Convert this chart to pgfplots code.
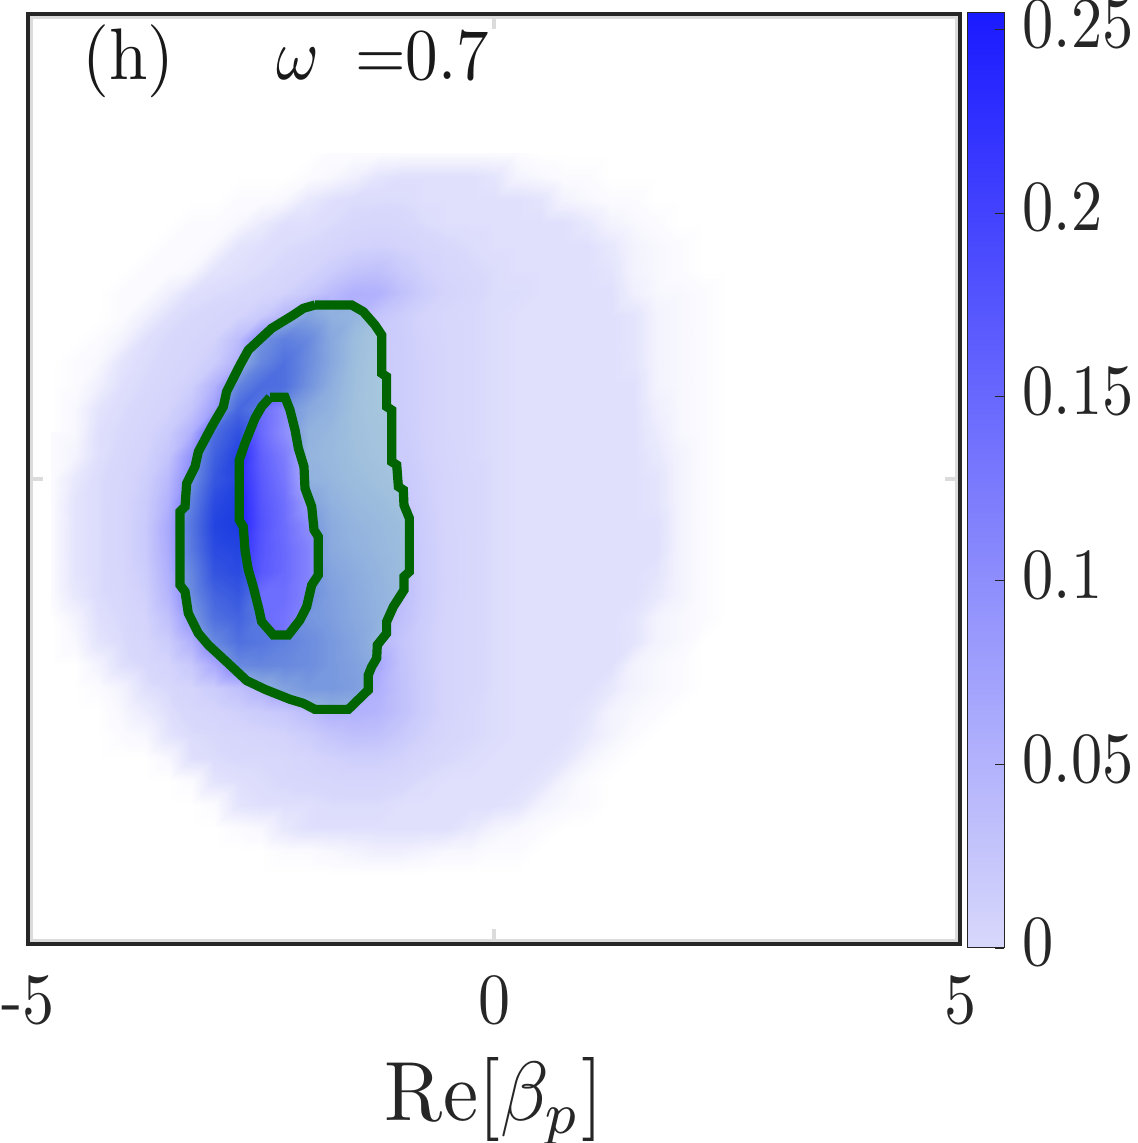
\documentclass[border=0pt]{standalone}
\usepackage{pgfplots}
\usepackage{pgfplotstable}
\pgfplotsset{compat=1.18}
\definecolor{framec}{rgb}{0.15,0.15,0.15}
\definecolor{ghost}{rgb}{0.86,0.86,0.86}
\definecolor{lineg}{RGB}{0,100,0}
\definecolor{tintc}{RGB}{20,180,105}
\pgfplotsset{colormap={heat}{rgb255(0)=(255,255,255) rgb255(10)=(216,216,252) rgb255(254)=(26,26,255)},
colormap={bar}{rgb255=(216,216,252) rgb255=(26,26,255)}}
% probability values in units of 0.001, rows from y=3.5 down to y=-4.25, columns x=-4.75 to 2.75, step 0.25
\pgfplotstableread[row sep=\\]{
v\\
0\\0\\0\\0\\0\\0\\0\\0\\0\\0\\0\\0\\1\\1\\1\\1\\1\\1\\1\\1\\1\\0\\0\\0\\0\\0\\0\\0\\0\\0\\0\\
0\\0\\0\\0\\0\\0\\0\\0\\0\\0\\0\\1\\2\\4\\7\\8\\8\\8\\8\\7\\3\\2\\1\\1\\0\\0\\0\\0\\0\\0\\0\\
0\\0\\0\\0\\0\\0\\0\\0\\1\\1\\2\\6\\8\\9\\9\\9\\8\\8\\8\\8\\8\\7\\3\\2\\1\\1\\0\\0\\0\\0\\0\\
0\\0\\0\\0\\0\\0\\1\\1\\2\\5\\8\\8\\9\\11\\12\\11\\9\\8\\8\\8\\8\\8\\8\\6\\3\\2\\1\\0\\0\\0\\0\\
0\\0\\0\\0\\0\\1\\1\\2\\7\\8\\9\\10\\13\\17\\19\\16\\12\\10\\9\\8\\8\\8\\8\\8\\6\\3\\2\\1\\0\\0\\0\\
0\\0\\0\\0\\1\\1\\2\\7\\8\\9\\11\\15\\24\\36\\40\\28\\18\\12\\10\\9\\8\\8\\8\\8\\7\\3\\2\\1\\0\\0\\0\\
0\\0\\0\\1\\1\\4\\8\\9\\10\\12\\18\\30\\48\\62\\60\\40\\24\\15\\11\\9\\9\\8\\8\\8\\8\\4\\2\\2\\1\\0\\0\\
0\\0\\0\\1\\4\\8\\10\\12\\16\\28\\55\\85\\62\\55\\35\\24\\15\\11\\10\\9\\8\\8\\8\\8\\8\\7\\3\\2\\1\\0\\0\\
0\\0\\1\\3\\8\\10\\12\\17\\45\\110\\140\\125\\75\\42\\28\\24\\17\\12\\10\\9\\8\\8\\8\\8\\8\\7\\3\\2\\1\\0\\0\\
0\\1\\2\\7\\9\\11\\15\\26\\62\\130\\165\\120\\75\\40\\26\\24\\18\\12\\10\\9\\8\\8\\8\\8\\8\\7\\3\\2\\1\\0\\0\\
0\\1\\4\\8\\10\\13\\22\\60\\133\\173\\165\\110\\65\\38\\26\\24\\18\\12\\10\\9\\8\\8\\8\\8\\8\\8\\3\\2\\1\\0\\0\\
0\\2\\7\\9\\12\\17\\35\\85\\180\\150\\112\\75\\58\\36\\27\\24\\18\\12\\10\\9\\8\\8\\8\\8\\8\\8\\4\\2\\1\\0\\0\\
0\\2\\8\\10\\14\\26\\60\\170\\215\\152\\107\\60\\50\\37\\30\\25\\18\\12\\10\\9\\8\\8\\8\\8\\8\\8\\5\\2\\1\\0\\0\\
1\\3\\8\\11\\18\\36\\100\\190\\240\\165\\127\\55\\48\\38\\32\\27\\19\\13\\10\\9\\8\\8\\8\\8\\8\\8\\6\\3\\1\\0\\0\\
1\\6\\9\\12\\22\\50\\115\\205\\235\\172\\135\\60\\52\\42\\36\\30\\21\\14\\11\\9\\8\\8\\8\\8\\8\\8\\7\\3\\1\\0\\0\\
1\\7\\9\\13\\26\\60\\140\\225\\245\\178\\145\\85\\60\\48\\42\\34\\22\\14\\11\\9\\8\\8\\8\\8\\8\\8\\7\\3\\1\\0\\0\\
1\\7\\9\\13\\28\\70\\155\\235\\250\\182\\148\\107\\70\\55\\48\\40\\24\\14\\11\\9\\8\\8\\8\\8\\8\\8\\8\\3\\1\\0\\0\\
1\\7\\9\\13\\28\\68\\150\\225\\235\\178\\152\\120\\72\\60\\50\\42\\25\\15\\11\\9\\8\\8\\8\\8\\8\\8\\8\\3\\1\\0\\0\\
1\\7\\9\\12\\24\\62\\130\\210\\225\\174\\152\\120\\82\\68\\55\\44\\25\\15\\11\\9\\8\\8\\8\\8\\8\\8\\7\\3\\1\\0\\0\\
1\\6\\9\\11\\20\\55\\120\\185\\205\\146\\146\\120\\90\\72\\58\\46\\26\\15\\11\\9\\8\\8\\8\\8\\8\\8\\6\\3\\1\\0\\0\\
0\\3\\8\\10\\16\\40\\95\\165\\185\\150\\140\\105\\92\\75\\60\\42\\24\\14\\11\\9\\8\\8\\8\\8\\8\\7\\3\\2\\1\\0\\0\\
0\\2\\7\\9\\13\\25\\60\\125\\165\\155\\138\\120\\100\\82\\55\\35\\22\\14\\11\\9\\8\\8\\8\\8\\8\\7\\3\\2\\0\\0\\0\\
0\\0\\3\\8\\10\\15\\30\\70\\125\\130\\125\\118\\100\\88\\72\\38\\22\\14\\11\\9\\8\\8\\8\\8\\8\\3\\2\\1\\0\\0\\0\\
0\\0\\1\\3\\8\\10\\15\\25\\40\\60\\85\\100\\100\\92\\62\\40\\24\\14\\11\\9\\8\\8\\8\\8\\6\\3\\2\\1\\0\\0\\0\\
0\\0\\0\\2\\5\\8\\11\\14\\20\\26\\32\\45\\60\\60\\55\\40\\24\\14\\10\\9\\8\\8\\8\\7\\3\\2\\1\\0\\0\\0\\0\\
0\\0\\0\\1\\2\\7\\9\\10\\12\\14\\17\\24\\35\\42\\40\\30\\19\\12\\10\\9\\8\\8\\8\\6\\3\\1\\0\\0\\0\\0\\0\\
0\\0\\0\\0\\0\\2\\8\\9\\10\\10\\11\\14\\18\\22\\22\\18\\13\\10\\9\\8\\8\\8\\7\\3\\1\\0\\0\\0\\0\\0\\0\\
0\\0\\0\\0\\0\\0\\1\\7\\8\\9\\10\\11\\12\\13\\13\\11\\9\\8\\8\\8\\8\\7\\3\\1\\0\\0\\0\\0\\0\\0\\0\\
0\\0\\0\\0\\0\\0\\0\\1\\7\\8\\8\\8\\9\\9\\9\\8\\8\\8\\8\\8\\7\\3\\2\\1\\0\\0\\0\\0\\0\\0\\0\\
0\\0\\0\\0\\0\\0\\0\\0\\1\\2\\6\\8\\8\\8\\8\\8\\8\\8\\6\\3\\2\\1\\0\\0\\0\\0\\0\\0\\0\\0\\0\\
0\\0\\0\\0\\0\\0\\0\\0\\0\\0\\1\\1\\2\\3\\4\\4\\3\\2\\2\\1\\1\\0\\0\\0\\0\\0\\0\\0\\0\\0\\0\\
0\\0\\0\\0\\0\\0\\0\\0\\0\\0\\0\\0\\0\\0\\0\\0\\0\\0\\0\\0\\0\\0\\0\\0\\0\\0\\0\\0\\0\\0\\0\\
}\heat
\pgfplotstableread{
x y
-1.921 1.871
-1.527 1.871
-1.402 1.799
-1.277 1.656
-1.205 1.548
-1.205 1.136
-1.152 1.100
-1.152 0.778
-1.098 0.742
-1.098 0.186
-1.044 0.151
-1.026 -0.082
-0.973 -0.118
-0.966 -0.280
-0.908 -0.423
-0.908 -0.996
-0.966 -1.050
-0.966 -1.194
-1.080 -1.373
-1.152 -1.534
-1.152 -1.659
-1.252 -1.785
-1.259 -1.928
-1.312 -2.018
-1.349 -2.108
-1.349 -2.269
-1.563 -2.477
-1.921 -2.477
-2.046 -2.412
-2.189 -2.369
-2.332 -2.312
-2.457 -2.262
-2.654 -2.168
-2.833 -2.000
-3.065 -1.785
-3.172 -1.659
-3.280 -1.444
-3.315 -1.211
-3.369 -1.140
-3.369 -0.351
-3.315 -0.297
-3.298 -0.047
-3.208 0.133
-3.172 0.294
-3.029 0.563
-2.904 0.778
-2.869 0.939
-2.725 1.226
-2.636 1.387
-2.386 1.620
-2.153 1.763
-2.046 1.835
-1.921 1.871
}\outerc
\pgfplotstableread{
x y
-2.403 0.878
-2.242 0.878
-2.189 0.742
-2.135 0.527
-2.099 0.330
-2.039 0.133
-2.028 -0.100
-1.956 -0.297
-1.931 -0.548
-1.885 -0.620
-1.885 -1.032
-1.956 -1.140
-2.010 -1.373
-2.082 -1.516
-2.207 -1.677
-2.368 -1.677
-2.493 -1.534
-2.529 -1.373
-2.583 -1.158
-2.636 -0.978
-2.672 -0.763
-2.690 -0.513
-2.733 -0.441
-2.733 0.204
-2.672 0.384
-2.564 0.653
-2.493 0.778
-2.403 0.878
}\innerc
\pgfplotstablevertcat{\ringc}{\outerc}
\pgfplotstablevertcat{\ringc}{\innerc}
\begin{document}
\begin{tikzpicture}
\useasboundingbox (-14pt,-99.5pt) rectangle (554.5pt,472pt);
\begin{axis}[
  at={(0pt,0pt)}, anchor=south west,
  scale only axis, width=466pt, height=465pt,
  xmin=-5, xmax=5, ymin=-5, ymax=5,
  clip=true, clip mode=individual,
  axis on top,
  xtick={-5,0,5}, ytick={-5,0,5},
  xticklabels={-5,0,5}, yticklabels={,,},
  tick align=inside,
  major tick length=7.5pt,
  tick style={color=ghost, line width=2pt},
  axis line style={color=framec, line width=2pt},
  xticklabel style={anchor=base, inner sep=0pt, xscale=3.2, yscale=3.6, text=framec, yshift=-11pt},
  xlabel={Re$[\beta_p]$},
  xlabel style={at={(axis description cs:0.5,0)}, anchor=base, inner sep=0pt, xscale=3.95, yscale=4.2, text=framec, yshift=-21pt},
  colormap name=heat,
  point meta min=0, point meta max=254,
]
\addplot[surf, shader=interp, mesh/cols=31, point meta=explicit]
  table[x index=0, y index=0, x expr={-4.75+0.25*mod(\coordindex,31)}, y expr={3.5-0.25*floor(\coordindex/31)}, meta=v] {\heat};
\addplot[draw=none, fill=tintc, fill opacity=0.2, even odd rule, forget plot] table[x=x,y=y] {\ringc};
\addplot[color=lineg, line width=4.6pt, line join=miter, no marks] table[x=x,y=y] {\outerc};
\addplot[color=lineg, line width=4.6pt, line join=miter, no marks] table[x=x,y=y] {\innerc};
\draw[ghost, line width=1.5pt] (axis cs:-4.962,-4.962) rectangle (axis cs:4.962,4.962);
\node[anchor=base west, inner sep=0pt, xscale=3.45, yscale=3.65, text=black!90] at (axis cs:-4.43,4.30) {(h)};
\node[anchor=base west, inner sep=0pt, xscale=3.25, yscale=3.65, text=black!90] at (axis cs:-2.35,4.30) {$\omega\;\;{=}$0.7};
\end{axis}
\begin{axis}[
  at={(469.5pt,-2pt)}, anchor=south west,
  scale only axis, width=18.5pt, height=467.5pt,
  xmin=0, xmax=1, ymin=0, ymax=0.2544,
  axis on top,
  xtick=\empty,
  ytick={0,0.05,0.1,0.15,0.2,0.25},
  yticklabels={0,0.05,0.1,0.15,0.2,0.25},
  ytick pos=right, yticklabel pos=right,
  tick align=inside, major tick length=4.5pt,
  tick style={color=framec, line width=0.4pt},
  axis line style={color=framec, line width=0.5pt},
  yticklabel style={anchor=base west, inner sep=0pt, xscale=3.12, yscale=3.6, text=framec, xshift=2.8pt, yshift=-2.5pt},
  colormap name=bar,
  point meta min=0, point meta max=0.2544,
]
\addplot[surf, shader=interp, mesh/cols=2, point meta=y] table {
x y
0 0
1 0
0 0.2544
1 0.2544
};
\end{axis}
\end{tikzpicture}
\end{document}
